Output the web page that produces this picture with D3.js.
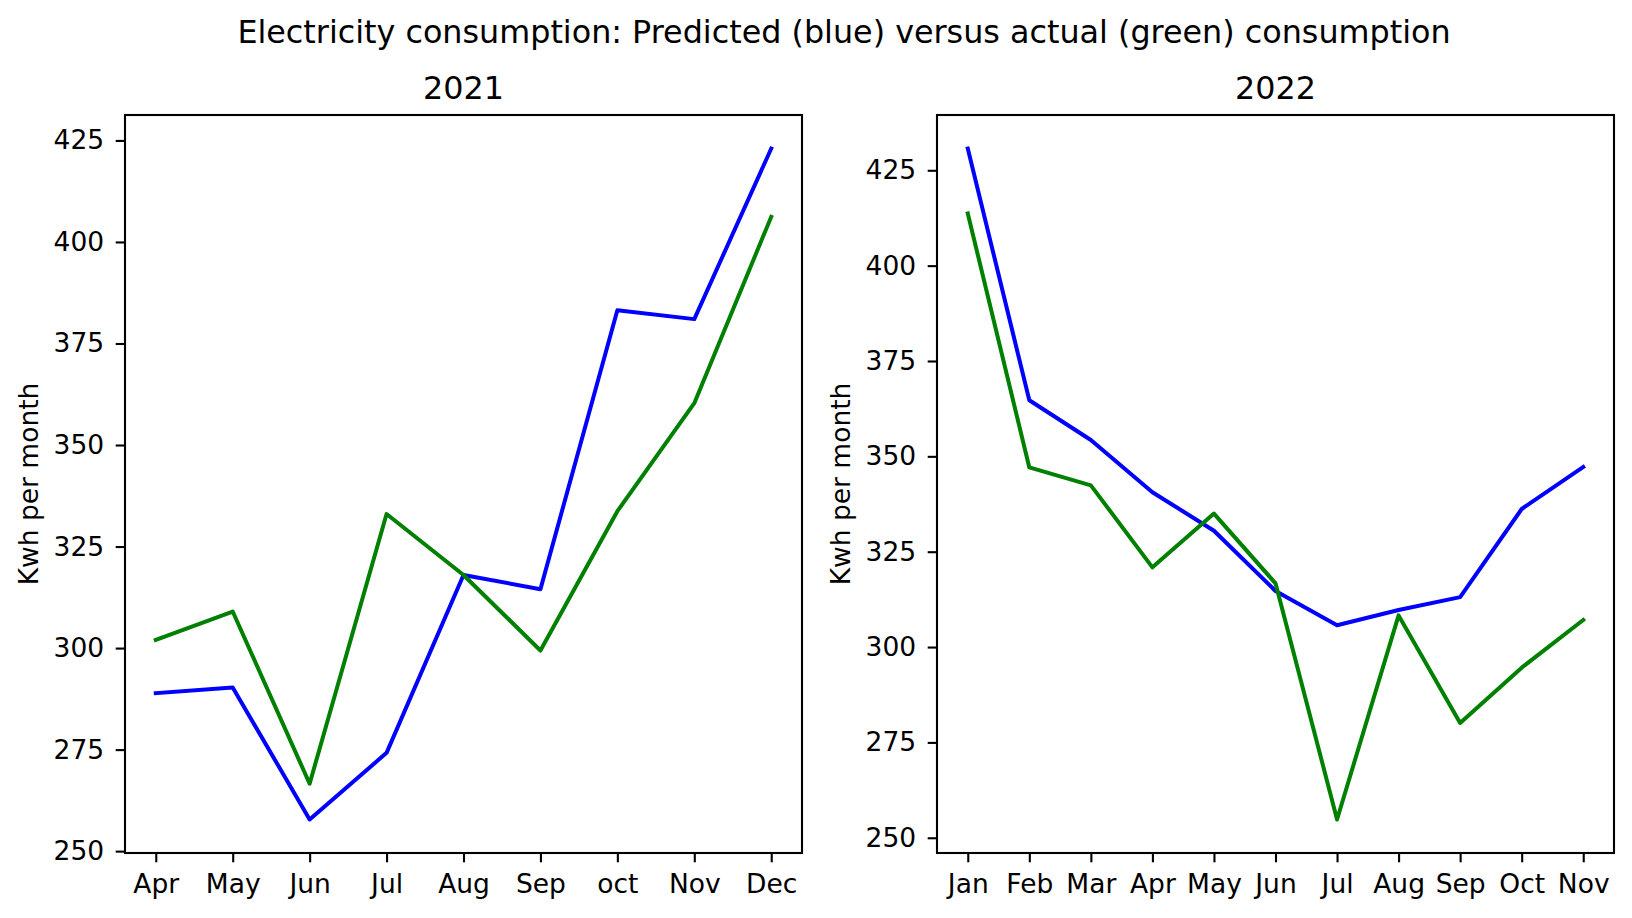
<!DOCTYPE html>
<html>
<head>
<meta charset="utf-8">
<script src="https://cdn.jsdelivr.net/npm/d3@7"></script>
<style>
  html, body { margin: 0; padding: 0; background: #fff; }
  svg { display: block; font-family: "DejaVu Sans", sans-serif; }
</style>
</head>
<body>
<svg id="chart" width="1632" height="918"></svg>
<script>
// ---- data ----
const suptitle = "Electricity consumption: Predicted (blue) versus actual (green) consumption";
const yLabel = "Kwh per month";

const title2021 = "2021";
const months2021 = ["Apr", "May", "Jun", "Jul", "Aug", "Sep", "oct", "Nov", "Dec"];
const predicted2021 = [288.9, 290.3, 257.8, 274.2, 318.0, 314.5, 383.2, 381.0, 423.0];
const actual2021 = [302.0, 309.0, 266.6, 333.0, 318.0, 299.4, 333.7, 360.3, 406.2];

const title2022 = "2022";
const months2022 = ["Jan", "Feb", "Mar", "Apr", "May", "Jun", "Jul", "Aug", "Sep", "Oct", "Nov"];
const predicted2022 = [430.7, 364.7, 354.3, 340.6, 330.5, 314.7, 305.7, 309.7, 313.1, 336.2, 347.2];
const actual2022 = [413.7, 347.1, 342.4, 320.9, 335.0, 316.7, 254.8, 308.3, 280.1, 294.6, 307.1];

const yTicks = [250, 275, 300, 325, 350, 375, 400, 425];

// ---- layout / style ----
const svg = d3.select("#chart");
const tickFont = 26.5;
const titleFont = 31.8;
const lineW = 4;
const spineW = 2.1;
const tickLen = 9.3;
const blue = "#0000ff";
const green = "#008000";
const axTop = 115, axBottom = 853;

svg.append("text")
  .attr("x", 844).attr("y", 43)
  .attr("text-anchor", "middle")
  .attr("font-size", titleFont)
  .attr("fill", "#000")
  .text(suptitle);

function panel(left, right, months, pred, act, title) {
  const n = months.length;
  const x = d3.scalePoint()
    .domain(months)
    .range([left, right])
    .padding(0.05 * (n - 1));
  const all = pred.concat(act);
  const mn = d3.min(all), mx = d3.max(all);
  const m = (mx - mn) * 0.05;
  const y = d3.scaleLinear().domain([mn - m, mx + m]).range([axBottom, axTop]);

  const g = svg.append("g");

  const line = d3.line()
    .x((d, i) => x(months[i]))
    .y(d => y(d));

  [[pred, blue], [act, green]].forEach(([vals, col]) => {
    g.append("path")
      .datum(vals)
      .attr("d", line)
      .attr("fill", "none")
      .attr("stroke", col)
      .attr("stroke-width", lineW)
      .attr("stroke-linejoin", "round")
      .attr("stroke-linecap", "square");
  });

  // x axis
  const xa = g.append("g")
    .attr("transform", `translate(0,${axBottom})`)
    .call(d3.axisBottom(x).tickSize(tickLen).tickSizeOuter(0).tickPadding(11.6));
  // y axis
  const ya = g.append("g")
    .attr("transform", `translate(${left},0)`)
    .call(d3.axisLeft(y).tickValues(yTicks).tickFormat(d3.format("d"))
      .tickSize(tickLen).tickSizeOuter(0).tickPadding(11.5));

  [xa, ya].forEach(a => {
    a.select(".domain").remove();
    a.selectAll(".tick line").attr("stroke", "#000").attr("stroke-width", spineW);
    a.selectAll(".tick text")
      .attr("fill", "#000")
      .attr("font-size", tickFont)
      .attr("font-family", "DejaVu Sans, sans-serif");
  });

  // spines
  g.append("rect")
    .attr("x", left).attr("y", axTop)
    .attr("width", right - left).attr("height", axBottom - axTop)
    .attr("fill", "none")
    .attr("stroke", "#000")
    .attr("stroke-width", spineW);

  // title
  g.append("text")
    .attr("x", (left + right) / 2).attr("y", axTop - 16)
    .attr("text-anchor", "middle")
    .attr("font-size", titleFont)
    .attr("fill", "#000")
    .text(title);

  // y label
  g.append("text")
    .attr("transform", `translate(${left - 87},${(axTop + axBottom) / 2}) rotate(-90)`)
    .attr("text-anchor", "middle")
    .attr("font-size", tickFont)
    .attr("fill", "#000")
    .text(yLabel);
}

panel(125, 802, months2021, predicted2021, actual2021, title2021);
panel(937, 1614, months2022, predicted2022, actual2022, title2022);
</script>
</body>
</html>
